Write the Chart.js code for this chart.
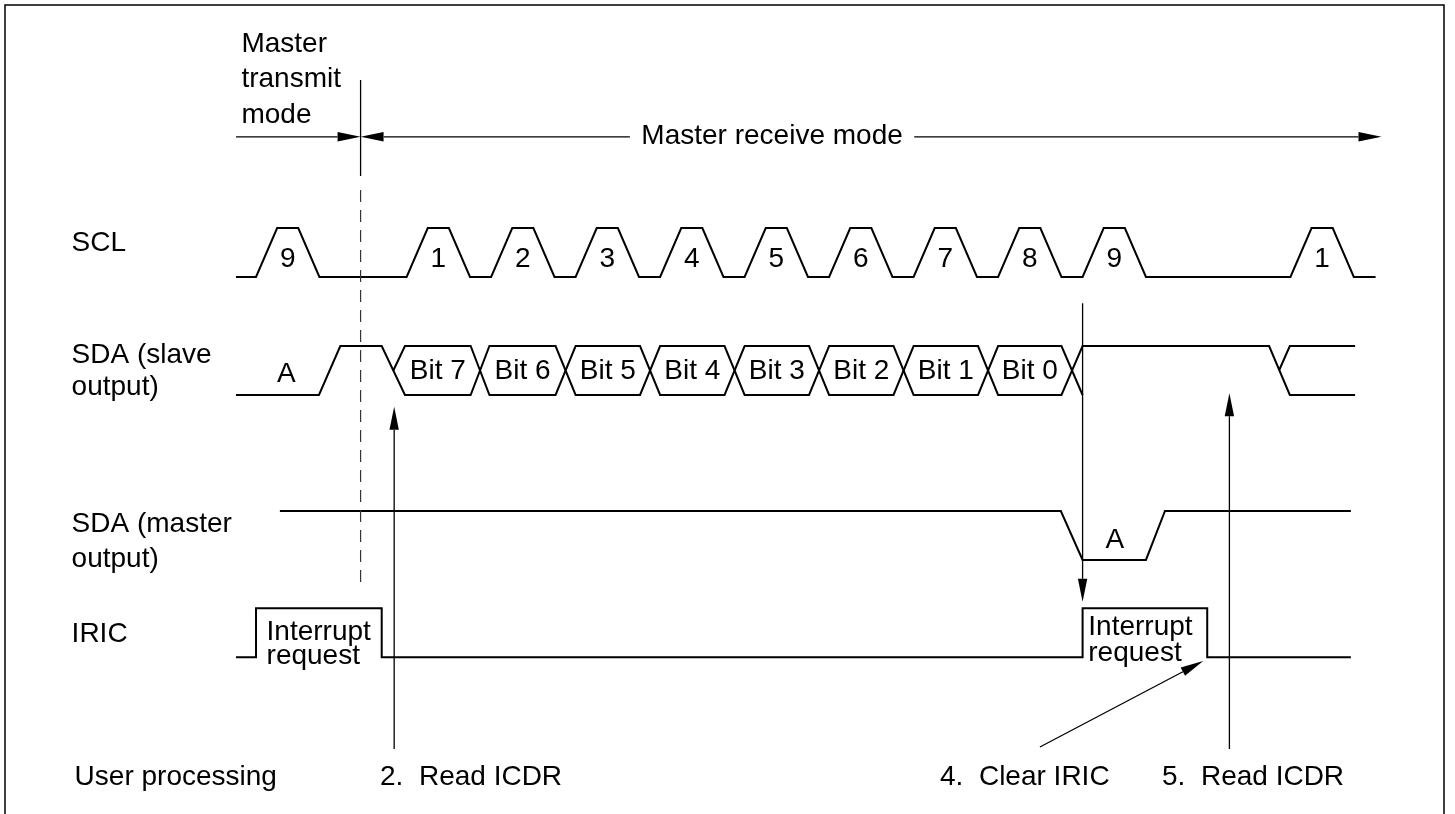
<!DOCTYPE html>
<html lang="en">
<head>
  <meta charset="UTF-8">
  <title>Master receive mode timing</title>
  <script src="https://cdn.jsdelivr.net/npm/chart.js"></script>
  <style>
    html, body { margin: 0; padding: 0; background: #fff; }
    #wrap { width: 1455px; height: 814px; }
  </style>
</head>
<body>
  <div id="wrap"><canvas id="timing"></canvas></div>

  <script>
    // time unit = a quarter of an SCL period, 0 = rising edge of clock 1
    const sclRise = [-7.13, 0, 4, 8, 12, 16, 20, 24, 28, 32, 41.84];
    const sclLabels = ['9', '1', '2', '3', '4', '5', '6', '7', '8', '9', '1'];
    const sclSpan = [-8.08, 45.87];

    const bitLabels = ['Bit 7', 'Bit 6', 'Bit 5', 'Bit 4', 'Bit 3', 'Bit 2', 'Bit 1', 'Bit 0'];
    const bitStart = [-0.08, 3.92, 8, 12, 16, 20, 24, 28];
    const bitEnd = [3.03, 7.05, 11.05, 15.05, 19.05, 23.05, 27.05, 31.0];

    // SDA slave output around the data byte
    const slaveLeadT = [-8.08, -4.15, -3.14, -1.18];
    const slaveLeadLevel = [0, 0, 1, 1];
    const slaveByteEnd = 32;
    const slaveTailT = [32, 40.83, 41.81, 44.9];
    const slaveTailLevel = [1, 1, 0, 0];
    const slaveNextT = [41.3, 41.81, 44.9];
    const slaveNextLevel = [0.5, 1, 1];

    // SDA master output
    const masterT = [-6.0, 30.97, 32, 35, 35.9, 44.7];
    const masterLevel = [1, 1, 0, 0, 1, 1];

    // IRIC flag
    const iricT = [-8.08, -7.13, -7.13, -1.18, -1.18, 32, 32, 37.9, 37.9, 44.7];
    const iricLevel = [0, 0, 1, 1, 0, 0, 1, 1, 0, 0];

    // user processing steps
    const stepLabels = ['2.  Read ICDR', '4.  Clear IRIC', '5.  Read ICDR'];
    const stepT = [-0.59, 37.71, 38.95];

    // vertical placement of each signal row (level 0 = low line)
    const rowBase = { scl: 10.959, slave: 8.551, master: 5.184, iric: 3.198 };

    const FONT = '28px "Liberation Sans", Arial, Helvetica, sans-serif';

    function pts(ts, lv, base) {
      return ts.map((t, i) => ({ x: t, y: base + lv[i] }));
    }

    // SCL trapezoid pulses
    const sclT = [sclSpan[0]], sclL = [0];
    sclRise.forEach(r => { sclT.push(r, r + 1, r + 2, r + 3); sclL.push(0, 1, 1, 0); });
    sclT.push(sclSpan[1]); sclL.push(0);

    // two bus lines crossing between the bits
    const busAT = slaveLeadT.slice(), busAL = slaveLeadLevel.slice();
    const busBT = [-0.63], busBL = [0.5];
    bitStart.forEach((s, i) => {
      const a = i % 2 === 0 ? 0 : 1;
      busAT.push(s, bitEnd[i]); busAL.push(a, a);
      busBT.push(s, bitEnd[i]); busBL.push(1 - a, 1 - a);
    });
    busAT.push(slaveByteEnd); busAL.push(0);
    busBT.push(...slaveTailT); busBL.push(...slaveTailLevel);

    const lineStyle = {
      showLine: true, borderColor: '#000', borderWidth: 2, pointRadius: 0,
      fill: false, tension: 0
    };

    const datasets = [
      { label: 'SCL', data: pts(sclT, sclL, rowBase.scl) },
      { label: 'SDA slave a', data: pts(busAT, busAL, rowBase.slave) },
      { label: 'SDA slave b', data: pts(busBT, busBL, rowBase.slave) },
      { label: 'SDA slave next', data: pts(slaveNextT, slaveNextLevel, rowBase.slave) },
      { label: 'SDA master', data: pts(masterT, masterLevel, rowBase.master) },
      { label: 'IRIC', data: pts(iricT, iricLevel, rowBase.iric) }
    ].map(d => Object.assign({}, lineStyle, d));

    function arrow(ctx, x1, y1, x2, y2) {
      const len = 23, hw = 4.7;
      const ang = Math.atan2(y2 - y1, x2 - x1);
      const bx = x2 - len * Math.cos(ang), by = y2 - len * Math.sin(ang);
      ctx.beginPath();
      ctx.moveTo(x1, y1);
      ctx.lineTo(bx, by);
      ctx.stroke();
      ctx.beginPath();
      ctx.moveTo(x2, y2);
      ctx.lineTo(bx + hw * Math.sin(ang), by - hw * Math.cos(ang));
      ctx.lineTo(bx - hw * Math.sin(ang), by + hw * Math.cos(ang));
      ctx.closePath();
      ctx.fill();
    }

    const annotations = {
      id: 'annotations',
      afterDatasetsDraw(chart) {
        const ctx = chart.ctx;
        const xs = chart.scales.x, ys = chart.scales.y;
        const X = t => xs.getPixelForValue(t);
        const Y = (row, lv) => ys.getPixelForValue(rowBase[row] + lv);
        ctx.save();
        ctx.strokeStyle = '#000';
        ctx.fillStyle = '#000';

        // frame
        ctx.lineWidth = 1.5;
        ctx.beginPath();
        ctx.moveTo(5, 814); ctx.lineTo(5, 5); ctx.lineTo(1444, 5); ctx.lineTo(1444, 814);
        ctx.stroke();

        ctx.font = FONT;
        ctx.textBaseline = 'alphabetic';

        // signal names
        ctx.textAlign = 'left';
        const lx = X(-15.86);
        ctx.fillText('SCL', lx, Y('scl', 0) - 26.3);
        ctx.fillText('SDA (slave', lx, Y('slave', 0) - 32.3);
        ctx.fillText('output)', lx, Y('slave', 0));
        ctx.fillText('SDA (master', lx, Y('master', 0) - 28.3);
        ctx.fillText('output)', lx, Y('master', 0) + 6.7);
        ctx.fillText('IRIC', lx, Y('iric', 0) - 15.6);
        ctx.fillText('User processing', lx + 3, 785);

        // mode header
        const modeY = ys.getPixelForValue(13.82);
        ctx.fillText('Master', X(-7.82), 51.7);
        ctx.fillText('transmit', X(-7.82), 87.3);
        ctx.fillText('mode', X(-7.82), 122.7);
        ctx.textAlign = 'center';
        ctx.fillText('Master receive mode', X(17.3), modeY + 7.3);

        ctx.lineWidth = 1.3;
        const divX = X(-2.18);
        arrow(ctx, X(-8.08), modeY, divX, modeY);
        arrow(ctx, X(10.57), modeY, divX, modeY);
        arrow(ctx, X(24.03), modeY, X(46.15), modeY);
        ctx.beginPath();
        ctx.moveTo(divX, 80); ctx.lineTo(divX, 176);
        ctx.stroke();
        ctx.lineWidth = 1.2;
        ctx.strokeStyle = '#333';
        ctx.setLineDash([12, 8]);
        ctx.beginPath();
        ctx.moveTo(divX, 190); ctx.lineTo(divX, 590);
        ctx.stroke();
        ctx.setLineDash([]);
        ctx.strokeStyle = '#000';

        // waveform labels
        sclLabels.forEach((s, i) => ctx.fillText(s, X(sclRise[i] + 1.5), Y('scl', 0) - 10.3));
        bitLabels.forEach((s, i) => ctx.fillText(s, X((bitStart[i] + bitEnd[i]) / 2), Y('slave', 0) - 16));
        ctx.fillText('A', X(-5.7), Y('slave', 0) - 13.3);
        ctx.fillText('A', X(33.53), Y('master', 0) - 11.7);
        ctx.textAlign = 'left';
        ctx.fillText('Interrupt', X(-6.63), Y('iric', 0) - 17.3);
        ctx.fillText('request', X(-6.63), Y('iric', 0) + 6.7);
        ctx.fillText('Interrupt', X(32.27), Y('iric', 0) - 22.3);
        ctx.fillText('request', X(32.27), Y('iric', 0) + 3.7);

        // user processing arrows
        ctx.lineWidth = 1.3;
        const bottom = 749;
        arrow(ctx, X(stepT[0]), bottom, X(stepT[0]), Y('slave', 0) + 11.7);
        arrow(ctx, X(29.98), bottom - 2, X(stepT[1]), Y('iric', 0) + 3.7);
        arrow(ctx, X(stepT[2]), bottom, X(stepT[2]), Y('slave', 0) - 1.7);
        arrow(ctx, X(32), Y('scl', 0) + 26.3, X(32), Y('iric', 1) - 6.6);

        ctx.fillText(stepLabels[0], X(-1.26), 785);
        ctx.fillText(stepLabels[1], X(25.25), 785);
        ctx.fillText(stepLabels[2], X(35.76), 785);
        ctx.restore();
      }
    };

    new Chart(document.getElementById('timing').getContext('2d'), {
      type: 'scatter',
      data: { datasets: datasets },
      options: {
        responsive: true,
        maintainAspectRatio: false,
        animation: false,
        events: [],
        layout: { padding: 0 },
        plugins: { legend: { display: false }, tooltip: { enabled: false } },
        scales: {
          x: { type: 'linear', display: false, min: -19.25, max: 49.63 },
          y: { type: 'linear', display: false, min: 0, max: 814 / 49 }
        }
      },
      plugins: [annotations]
    });
  </script>
</body>
</html>
